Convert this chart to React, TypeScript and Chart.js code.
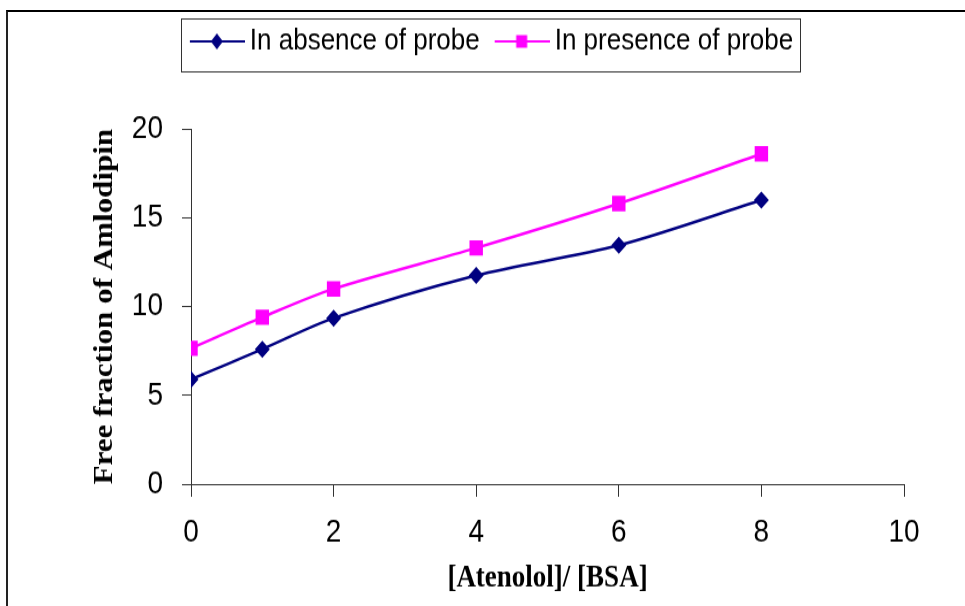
import React, { useEffect, useRef } from 'react';
import { Chart, registerables } from 'chart.js';

Chart.register(...registerables);

// ---- data ----
const xValues = [0, 1, 2, 4, 6, 8];
const absenceValues = [5.9, 7.6, 9.35, 11.75, 13.45, 16.0];
const presenceValues = [7.65, 9.4, 11.0, 13.3, 15.8, 18.6];
const seriesLabels = ['In absence of probe', 'In presence of probe'];
const seriesColors = ['#000080', '#FF00FF'];
const xTitle = '[Atenolol]/ [BSA]';
const yTitle = 'Free fraction of Amlodipin';
const xTickValues = [0, 2, 4, 6, 8, 10];
const yTickValues = [0, 5, 10, 15, 20];

// ---- layout constants ----
const PAGE_W = 965;
const PAGE_H = 606;
const STRETCH = 1.15; // the reference is stretched vertically
const CANVAS_H = Math.round(PAGE_H / STRETCH);

const SANS = "'Liberation Sans', Arial, sans-serif";
const SERIF = "'Liberation Serif', 'Times New Roman', serif";

function makeMarker(color: string, shape: 'diamond' | 'square') {
  const c = document.createElement('canvas');
  c.width = 68;
  c.height = 18;
  const g = c.getContext('2d')!;
  g.strokeStyle = color;
  g.lineWidth = 2.2;
  g.beginPath();
  g.moveTo(13, 9);
  g.lineTo(68, 9);
  g.stroke();
  g.fillStyle = color;
  const cx = 40;
  if (shape === 'diamond') {
    g.beginPath();
    g.moveTo(cx, 2);
    g.lineTo(cx + 6, 9);
    g.lineTo(cx, 16);
    g.lineTo(cx - 6, 9);
    g.closePath();
    g.fill();
  } else {
    g.fillRect(cx - 5.5, 3.5, 11, 11);
  }
  return c;
}

const legendBoxPlugin = {
  id: 'legendBox',
  afterDraw(chart: any) {
    const lg = chart.legend;
    if (!lg || !lg.legendHitBoxes || !lg.legendHitBoxes.length) return;
    const hb = lg.legendHitBoxes;
    const first = hb[0];
    const last = hb[hb.length - 1];
    const cy = first.top + first.height / 2;
    const left = Math.round(first.left - 4) + 0.5;
    const right = Math.round(last.left + last.width + 7) + 0.5;
    const top = Math.round(cy - 20) + 0.5;
    const bottom = Math.round(cy + 26) + 0.5;
    const ctx = chart.ctx;
    ctx.save();
    ctx.strokeStyle = '#333';
    ctx.lineWidth = 1;
    ctx.strokeRect(left, top, right - left, bottom - top);
    ctx.restore();
  },
};

export default function App() {
  const canvasRef = useRef<HTMLCanvasElement | null>(null);

  useEffect(() => {
    const canvas = canvasRef.current;
    if (!canvas) return;
    const markers = [makeMarker(seriesColors[0], 'diamond'), makeMarker(seriesColors[1], 'square')];

    const chart = new Chart(canvas, {
      type: 'line',
      data: {
        datasets: [
          {
            label: seriesLabels[0],
            data: xValues.map((x, i) => ({ x, y: absenceValues[i] })),
            borderColor: seriesColors[0],
            backgroundColor: seriesColors[0],
            borderWidth: 2.5,
            pointStyle: 'rectRot',
            pointRadius: 7.5,
            pointBorderWidth: 0,
            tension: 0.3,
          },
          {
            label: seriesLabels[1],
            data: xValues.map((x, i) => ({ x, y: presenceValues[i] })),
            borderColor: seriesColors[1],
            backgroundColor: seriesColors[1],
            borderWidth: 2.5,
            pointStyle: 'rect',
            pointRadius: 9.5,
            pointBorderWidth: 0,
            tension: 0.3,
          },
        ],
      },
      options: {
        responsive: false,
        animation: false,
        layout: { padding: { top: 13, left: 74, right: 61, bottom: 0 } },
        plugins: {
          legend: {
            position: 'top',
            labels: {
              usePointStyle: true,
              pointStyleWidth: 52,
              padding: 10,
              color: '#000',
              font: { family: SANS, size: 26 },
              generateLabels: (c: any) => {
                const items = (Chart as any).defaults.plugins.legend.labels.generateLabels(c);
                items.forEach((it: any, i: number) => {
                  it.pointStyle = markers[i];
                });
                return items;
              },
            },
          },
          title: {
            display: true,
            text: '',
            weight: 500,
            padding: { top: 52, bottom: 0 },
            font: { size: 1 },
          },
          tooltip: { enabled: false },
        },
        scales: {
          x: {
            type: 'linear',
            min: xTickValues[0],
            max: xTickValues[xTickValues.length - 1],
            afterBuildTicks: (s: any) => {
              s.ticks = xTickValues.map((v) => ({ value: v }));
            },
            ticks: { color: '#000', font: { family: SANS, size: 28 }, padding: 14 },
            grid: { drawOnChartArea: false, tickLength: 11, color: '#333' },
            border: { color: '#333' },
            title: {
              display: true,
              text: xTitle,
              color: '#000',
              font: { family: SERIF, size: 27, weight: 'bold' },
              padding: { top: 0, bottom: 8 },
            },
            afterFit: (s: any) => {
              s.height = 106;
            },
          },
          y: {
            type: 'linear',
            min: yTickValues[0],
            max: yTickValues[yTickValues.length - 1],
            afterBuildTicks: (s: any) => {
              s.ticks = yTickValues.map((v) => ({ value: v }));
            },
            ticks: { color: '#000', font: { family: SANS, size: 28 }, padding: 19 },
            grid: { drawOnChartArea: false, tickLength: 9, color: '#333' },
            border: { color: '#333' },
            title: {
              display: true,
              text: yTitle,
              color: '#000',
              font: { family: SERIF, size: 27, weight: 'bold' },
              padding: { top: 15, bottom: 6 },
            },
            afterFit: (s: any) => {
              s.width = 117;
            },
          },
        },
      },
      plugins: [legendBoxPlugin],
    } as any);

    return () => {
      chart.destroy();
    };
  }, []);

  return (
    <div
      style={{
        position: 'absolute',
        left: 0,
        top: 0,
        width: PAGE_W,
        height: PAGE_H,
        background: '#fff',
        overflow: 'hidden',
      }}
    >
      <canvas
        ref={canvasRef}
        width={PAGE_W}
        height={CANVAS_H}
        style={{
          position: 'absolute',
          left: 0,
          top: 0,
          width: PAGE_W + 'px',
          height: PAGE_H + 'px',
          display: 'block',
        }}
      />
      <div
        style={{
          position: 'absolute',
          left: 6,
          top: 10,
          right: 0,
          bottom: 0,
          borderTop: '2px solid #000',
          borderLeft: '2px solid #222',
          pointerEvents: 'none',
        }}
      />
    </div>
  );
}
